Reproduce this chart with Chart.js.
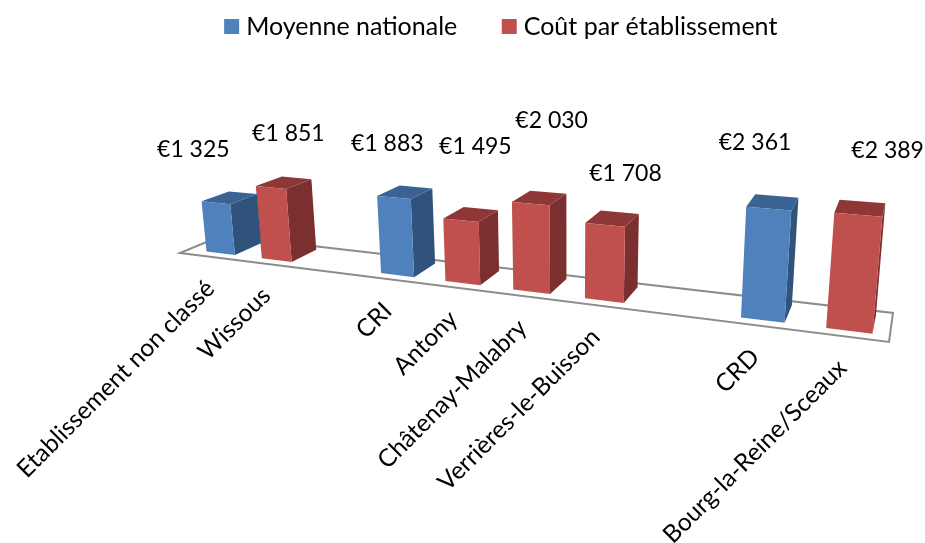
<!DOCTYPE html>
<html>
<head>
<meta charset="utf-8">
<style>
  html, body { margin: 0; padding: 0; background: #fff; }
  canvas { display: block; }
</style>
<script src="https://cdn.jsdelivr.net/npm/chart.js@4"></script>
</head>
<body>
<canvas id="costChart" width="925" height="543"></canvas>
<script>
var categories = ['Etablissement non classé', 'Wissous', '', 'CRI', 'Antony', 'Châtenay-Malabry', 'Verrières-le-Buisson', '', 'CRD', 'Bourg-la-Reine/Sceaux'];
var moyenneNationale = [1325, null, null, 1883, null, null, null, null, 2361, null];
var coutEtablissement = [null, 1851, null, null, 1495, 2030, 1708, null, null, 2389];

var FONT = 'Lato';
var BLUE = { front: '#4f81bd', side: '#30537d', top: '#3a6394' };
var RED = { front: '#c0504d', side: '#7b302f', top: '#8d3836' };

// where the floor corners land on screen: front left, front right, back right, back left
var floorCorners = [[180, 253], [889, 342], [893, 313], [222, 235.5]];
var vanishUp = { x: 570, y: 3950, c: -0.0254 };
var depthFront = 0.2, depthBack = 0.85;
// the value labels were moved by hand in the original
var labelShift = [[-22.5, -53], [17.5, -54], [-6.5, -54], [14.5, -74], [21, -83], [20.5, -51], [-13.5, -66], [29.5, -64]];

function makeHomography(q) {
	var dx1 = q[1][0] - q[2][0], dx2 = q[3][0] - q[2][0], sx = q[0][0] - q[1][0] + q[2][0] - q[3][0];
	var dy1 = q[1][1] - q[2][1], dy2 = q[3][1] - q[2][1], sy = q[0][1] - q[1][1] + q[2][1] - q[3][1];
	var den = dx1 * dy2 - dx2 * dy1;
	var g = (sx * dy2 - dx2 * sy) / den;
	var h = (dx1 * sy - sx * dy1) / den;
	return {
		a: q[1][0] - q[0][0] + g * q[1][0], b: q[3][0] - q[0][0] + h * q[3][0], c: q[0][0],
		d: q[1][1] - q[0][1] + g * q[1][1], e: q[3][1] - q[0][1] + h * q[3][1], f: q[0][1],
		g: g, h: h
	};
}
var floorMap = makeHomography(floorCorners);

// u along the axis, w into the depth, t height as a fraction of the plot
function project(u, w, t) {
	var m = floorMap, k = t * vanishUp.c;
	var W = m.g * u + m.h * w + 1 + k;
	return {
		x: (m.a * u + m.b * w + m.c + k * vanishUp.x) / W,
		y: (m.d * u + m.e * w + m.f + k * vanishUp.y) / W
	};
}

// pixel on the category axis to position along the floor
function barU(px, area) {
	return 0.009 + 0.996 * (px - area.left) / area.width;
}

function poly(ctx, pts, color) {
	ctx.beginPath();
	pts.forEach(function (p, i) {
		if (i === 0) ctx.moveTo(p.x, p.y); else ctx.lineTo(p.x, p.y);
	});
	ctx.closePath();
	ctx.fillStyle = color;
	ctx.fill();
}

function formatEuro(v) {
	var s = String(v);
	return '€' + s.slice(0, -3) + ' ' + s.slice(-3);
}

var bars3d = {
	id: 'bars3d',
	beforeDatasetsDraw: function (chart) {
		var ctx = chart.ctx;
		ctx.save();
		ctx.beginPath();
		[[0, 0], [1, 0], [1, 1], [0, 1]].forEach(function (c, i) {
			var p = project(c[0], c[1], 0);
			if (i === 0) ctx.moveTo(p.x, p.y); else ctx.lineTo(p.x, p.y);
		});
		ctx.closePath();
		ctx.strokeStyle = '#8c8c8c';
		ctx.lineWidth = 2;
		ctx.stroke();
		ctx.restore();
	},
	beforeDatasetDraw: function (chart, args) {
		var ctx = chart.ctx, area = chart.chartArea;
		var colors = args.index === 0 ? BLUE : RED;
		args.meta.data.forEach(function (bar, i) {
			if (chart.data.datasets[args.index].data[i] === null) return;
			var u0 = barU(bar.x - bar.width / 2, area);
			var u1 = barU(bar.x + bar.width / 2, area);
			var t = (bar.base - bar.y) / area.height;
			var w0 = depthFront, w1 = depthBack;
			poly(ctx, [project(u1, w0, 0), project(u1, w1, 0), project(u1, w1, t), project(u1, w0, t)], colors.side);
			poly(ctx, [project(u0, w0, t), project(u1, w0, t), project(u1, w1, t), project(u0, w1, t)], colors.top);
			poly(ctx, [project(u0, w0, 0), project(u1, w0, 0), project(u1, w0, t), project(u0, w0, t)], colors.front);
		});
		return false;
	},
	afterDatasetsDraw: function (chart) {
		var ctx = chart.ctx, area = chart.chartArea, xScale = chart.scales.x, yScale = chart.scales.y;
		ctx.save();
		ctx.fillStyle = '#000';

		// value labels
		ctx.font = '23px ' + FONT;
		var n = 0;
		categories.forEach(function (name, i) {
			var v = moyenneNationale[i] !== null ? moyenneNationale[i] : coutEtablissement[i];
			if (v === null) return;
			var u = barU(xScale.getPixelForValue(i), area);
			var t = (yScale.getPixelForValue(0) - yScale.getPixelForValue(v)) / area.height;
			var p = project(u, depthFront, t);
			ctx.textAlign = 'center';
			ctx.textBaseline = 'middle';
			ctx.fillText(formatEuro(v), p.x + labelShift[n][0], p.y + labelShift[n][1]);
			n++;
		});

		// rotated category labels following the floor edge
		ctx.font = '24.5px ' + FONT;
		categories.forEach(function (name, i) {
			if (!name) return;
			var u = 0.002 + 0.995 * (xScale.getPixelForValue(i) - area.left) / area.width;
			var p = project(u, 0, 0);
			ctx.save();
			ctx.translate(p.x + 2, p.y + 28);
			ctx.rotate(-Math.PI / 4);
			ctx.textAlign = 'right';
			ctx.textBaseline = 'middle';
			ctx.fillText(name, 0, 0);
			ctx.restore();
		});
		ctx.restore();
	}
};

var chart = new Chart(document.getElementById('costChart').getContext('2d'), {
	type: 'bar',
	data: {
		labels: categories,
		datasets: [
			{ label: 'Moyenne nationale', data: moyenneNationale, backgroundColor: BLUE.front, borderColor: BLUE.front, borderWidth: 11 },
			{ label: 'Coût par établissement', data: coutEtablissement, backgroundColor: RED.front, borderColor: RED.front, borderWidth: 11 }
		]
	},
	options: {
		responsive: false,
		animation: false,
		layout: { padding: { left: 82, top: -36 } },
		datasets: { bar: { grouped: false, categoryPercentage: 1, barPercentage: 0.52 } },
		scales: {
			x: { display: false },
			y: { display: false, min: 0, max: 2500 }
		},
		plugins: {
			tooltip: { enabled: false },
			legend: {
				position: 'top',
				labels: {
					boxWidth: 4,
					boxHeight: 4,
					padding: 50,
					color: '#000',
					font: { family: FONT, size: 25 }
				}
			}
		}
	},
	plugins: [bars3d]
});
</script>
</body>
</html>
